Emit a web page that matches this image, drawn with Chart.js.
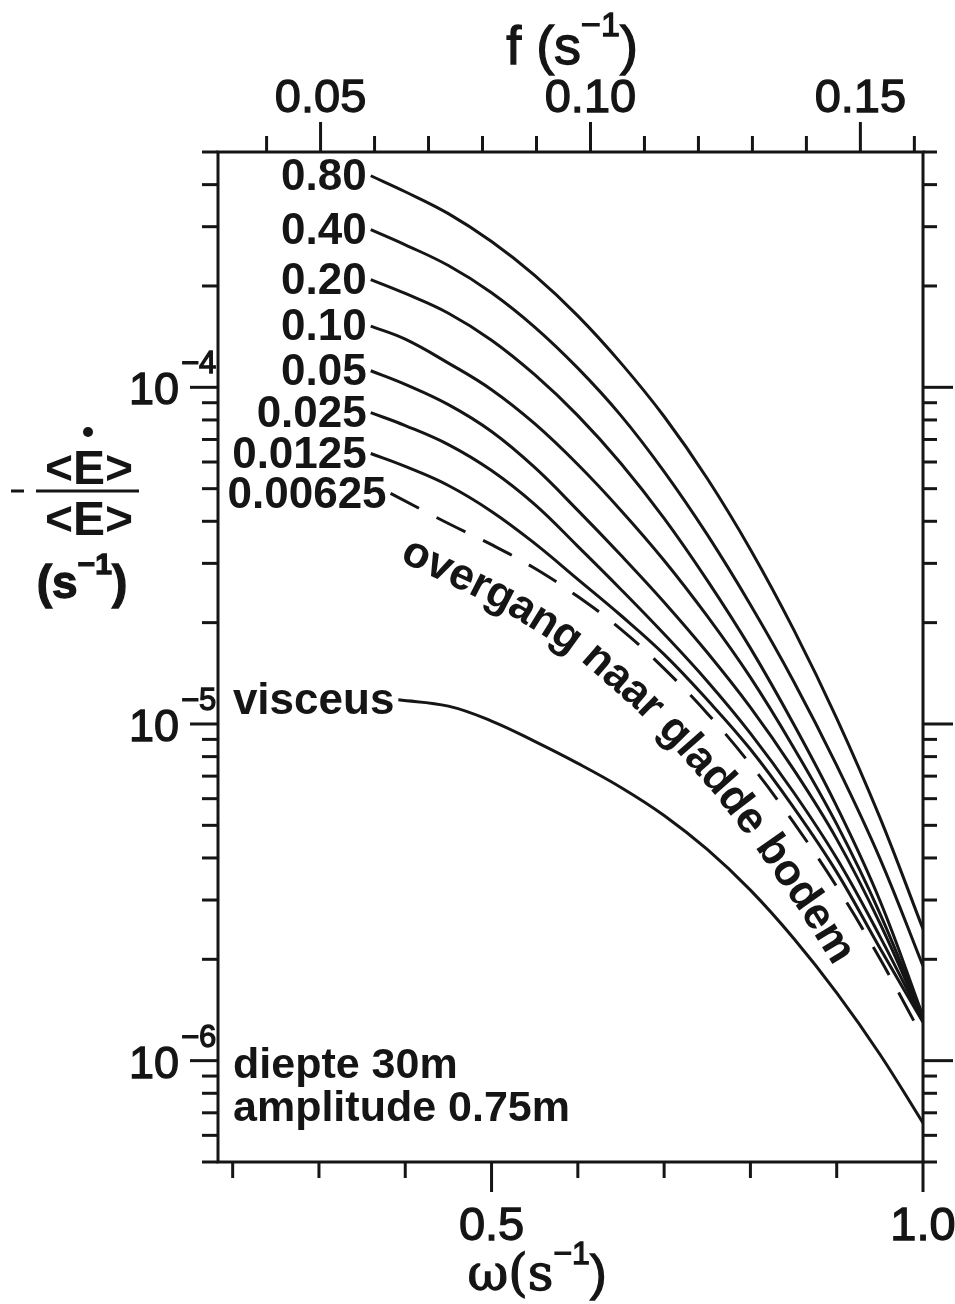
<!DOCTYPE html>
<html>
<head>
<meta charset="utf-8">
<script src="https://cdn.jsdelivr.net/npm/chart.js@4/dist/chart.umd.min.js"></script>
<style>
  html, body { margin: 0; padding: 0; background: #fff; }
  #wrap { width: 955px; height: 1304px; }
</style>
</head>
<body>
<div id="wrap"><canvas id="chart" width="955" height="1304"></canvas></div>
<script>
// omega (s^-1) grid shared by the roughness curves
var omega = [0.36, 0.40, 0.45, 0.50, 0.55, 0.60, 0.65, 0.70, 0.75, 0.80, 0.85, 0.90, 0.95, 1.00];
var roughness = ["0.80", "0.40", "0.20", "0.10", "0.05", "0.025", "0.0125"];

// -<dE/dt>/<E> (s^-1)
var d080 = [4.25e-4, 3.81e-4, 3.28e-4, 2.71e-4, 2.15e-4, 1.63e-4, 1.18e-4, 8.19e-5, 5.36e-5, 3.30e-5, 1.91e-5, 1.04e-5, 5.28e-6, 2.46e-6];
var d040 = [2.94e-4, 2.65e-4, 2.30e-4, 1.91e-4, 1.51e-4, 1.14e-4, 8.24e-5, 5.62e-5, 3.65e-5, 2.26e-5, 1.34e-5, 7.53e-6, 3.99e-6, 1.91e-6];
var d020 = [2.09e-4, 1.90e-4, 1.66e-4, 1.38e-4, 1.09e-4, 8.24e-5, 5.94e-5, 4.08e-5, 2.67e-5, 1.68e-5, 1.00e-5, 5.69e-6, 2.99e-6, 1.355e-6];
var d010 = [1.52e-4, 1.39e-4, 1.18e-4, 9.84e-5, 7.80e-5, 5.90e-5, 4.31e-5, 3.06e-5, 2.09e-5, 1.375e-5, 8.52e-6, 5.04e-6, 2.74e-6, 1.34e-6];
var d005 = [1.12e-4, 1.02e-4, 8.88e-5, 7.39e-5, 5.78e-5, 4.31e-5, 3.17e-5, 2.30e-5, 1.63e-5, 1.12e-5, 7.33e-6, 4.55e-6, 2.56e-6, 1.32e-6];
var d0025 = [8.41e-5, 7.70e-5, 6.76e-5, 5.66e-5, 4.49e-5, 3.37e-5, 2.51e-5, 1.85e-5, 1.34e-5, 9.38e-6, 6.27e-6, 3.99e-6, 2.34e-6, 1.31e-6];
var d00125 = [6.36e-5, 5.82e-5, 5.11e-5, 4.28e-5, 3.44e-5, 2.69e-5, 2.10e-5, 1.61e-5, 1.18e-5, 8.41e-6, 5.65e-6, 3.63e-6, 2.16e-6, 1.30e-6];

// dashed line (0.00625 / overgang naar gladde bodem)
var omegaOvergang = [0.383, 0.45, 0.50, 0.55, 0.60, 0.65, 0.70, 0.75, 0.80, 0.85, 0.90, 0.95, 0.991];
var dOvergang = [4.84e-5, 3.94e-5, 3.41e-5, 2.90e-5, 2.39e-5, 1.91e-5, 1.46e-5, 1.075e-5, 7.59e-6, 5.10e-6, 3.29e-6, 2.01e-6, 1.29e-6];

// viscous curve
var omegaVisceus = [0.392, 0.45, 0.50, 0.55, 0.60, 0.65, 0.70, 0.75, 0.80, 0.85, 0.90, 0.95, 1.00];
var dVisceus = [1.18e-5, 1.13e-5, 1.02e-5, 8.88e-6, 7.64e-6, 6.48e-6, 5.35e-6, 4.24e-6, 3.21e-6, 2.31e-6, 1.59e-6, 1.045e-6, 6.53e-7];

// axis ticks
var omegaTicks = [0.2, 0.3, 0.4, 0.5, 0.6, 0.7, 0.8, 0.9, 1.0];
var omegaLabels = ["0.5", "1.0"];
var omegaLabelAt = [0.5, 1.0];
var fTicks = [0.04, 0.05, 0.06, 0.07, 0.08, 0.09, 0.10, 0.11, 0.12, 0.13, 0.14, 0.15, 0.16];
var fLabels = ["0.05", "0.10", "0.15"];
var fLabelAt = [0.05, 0.10, 0.15];
var decades = [1e-4, 1e-5, 1e-6];
var decadeExp = ["\u22124", "\u22125", "\u22126"];

var black = "#151515";
var SANS = "'Liberation Sans', Arial, sans-serif";

function toPoints(xs, ys) {
  return xs.map(function (x, i) { return { x: x, y: ys[i] }; });
}

function lineSet(label, xs, ys, dash) {
  return {
    label: label,
    data: toPoints(xs, ys),
    borderColor: black,
    borderWidth: 3,
    borderDash: dash || [],
    pointRadius: 0,
    fill: false,
    tension: 0.4
  };
}

var curves = [d080, d040, d020, d010, d005, d0025, d00125];
var datasets = curves.map(function (d, i) { return lineSet(roughness[i], omega, d); });
datasets.push(lineSet("0.00625", omegaOvergang, dOvergang, [32, 20]));
datasets.push(lineSet("visceus", omegaVisceus, dVisceus));

// log ticks 2..9 per decade inside the range
var yTicks = [];
[1e-7, 1e-6, 1e-5, 1e-4].forEach(function (dec) {
  for (var m = 1; m <= 9; m++) {
    var v = m * dec;
    if (v > 4.99e-7 && v < 5.01e-4) yTicks.push({ v: v, major: m === 1 });
  }
});

function seg(c, x1, y1, x2, y2) {
  c.beginPath(); c.moveTo(x1, y1); c.lineTo(x2, y2); c.stroke();
}

// filled text with a thin outline, a bit heavier than plain regular
function heavyText(c, s, x, y) {
  c.fillText(s, x, y);
  c.lineWidth = 1.3;
  c.strokeText(s, x, y);
}

// base text + superscript + tail, starting at x (left)
function supText(c, x, y, base, sup, tail, size, supSize, weight, baseFont) {
  c.textAlign = "left";
  c.textBaseline = "alphabetic";
  c.font = weight + " " + size + "px " + (baseFont || SANS); heavyText(c, base, x, y); x += c.measureText(base).width;
  c.font = weight + " " + supSize + "px " + SANS; heavyText(c, sup, x, y - size * 0.52); x += c.measureText(sup).width;
  c.font = weight + " " + size + "px " + SANS; heavyText(c, tail, x, y); x += c.measureText(tail).width;
  return x;
}
function supWidth(c, base, sup, tail, size, supSize, weight, baseFont) {
  var w = 0;
  c.font = weight + " " + size + "px " + (baseFont || SANS); w += c.measureText(base).width;
  c.font = weight + " " + supSize + "px " + SANS; w += c.measureText(sup).width;
  c.font = weight + " " + size + "px " + SANS; w += c.measureText(tail).width;
  return w;
}

// write text along an offset of a polyline
function textAlong(c, pts, text, s0, off0, off1) {
  var n = pts.length, shifted = [];
  for (var i = 0; i < n; i++) {
    var p = pts[Math.max(i - 1, 0)], q = pts[Math.min(i + 1, n - 1)];
    var tx = q.x - p.x, ty = q.y - p.y, l = Math.hypot(tx, ty);
    var d = off0 + (off1 - off0) * i / (n - 1);
    shifted.push({ x: pts[i].x - ty / l * d, y: pts[i].y + tx / l * d });
  }
  var cum = [0];
  for (i = 1; i < n; i++) cum.push(cum[i - 1] + Math.hypot(shifted[i].x - shifted[i - 1].x, shifted[i].y - shifted[i - 1].y));
  function at(s) {
    for (var k = 1; k < n; k++) {
      if (s <= cum[k] || k === n - 1) {
        var t = (s - cum[k - 1]) / (cum[k] - cum[k - 1]);
        var a = shifted[k - 1], b = shifted[k];
        return { x: a.x + (b.x - a.x) * t, y: a.y + (b.y - a.y) * t, ang: Math.atan2(b.y - a.y, b.x - a.x) };
      }
    }
  }
  c.textAlign = "center";
  c.textBaseline = "middle";
  var s = s0;
  for (var j = 0; j < text.length; j++) {
    var w = c.measureText(text[j]).width;
    var p2 = at(s + w / 2);
    c.save(); c.translate(p2.x, p2.y); c.rotate(p2.ang); c.fillText(text[j], 0, 0); c.restore();
    s += w;
  }
}

var decor = {
  id: "decor",
  afterDatasetsDraw: function (chart) {
    var c = chart.ctx, a = chart.chartArea;
    var sx = chart.scales.x, sx2 = chart.scales.x2, sy = chart.scales.y;
    c.save();
    c.strokeStyle = black; c.fillStyle = black; c.lineWidth = 3; c.lineCap = "butt";

    // frame
    c.strokeRect(a.left, a.top, a.right - a.left, a.bottom - a.top);

    // bottom omega ticks
    omegaTicks.forEach(function (v) {
      var px = sx.getPixelForValue(v);
      var len = (Math.abs(v - 0.5) < 1e-6 || Math.abs(v - 1) < 1e-6) ? 30 : 16;
      seg(c, px, a.bottom, px, a.bottom + len);
    });
    // top f ticks
    fTicks.forEach(function (v) {
      var px = sx2.getPixelForValue(v);
      var major = fLabelAt.some(function (m) { return Math.abs(m - v) < 1e-6; });
      seg(c, px, a.top, px, a.top - (major ? 30 : 16));
    });
    // left / right log ticks
    yTicks.forEach(function (t) {
      var py = sy.getPixelForValue(t.v);
      seg(c, a.left, py, a.left - (t.major ? 28 : 16), py);
      seg(c, a.right, py, a.right + (t.major ? 30 : 14), py);
    });

    // tick labels
    c.font = "47px " + SANS;
    c.textAlign = "center"; c.textBaseline = "alphabetic";
    omegaLabels.forEach(function (lab, i) { heavyText(c, lab, sx.getPixelForValue(omegaLabelAt[i]), 1240); });
    fLabels.forEach(function (lab, i) { heavyText(c, lab, sx2.getPixelForValue(fLabelAt[i]), 112); });
    decades.forEach(function (d, i) {
      var py = sy.getPixelForValue(d);
      c.font = "45px " + SANS; c.textAlign = "right";
      heavyText(c, "10", 179, py + 17);
      c.font = "31px " + SANS; c.textAlign = "left";
      heavyText(c, decadeExp[i], 181, py - 14);
    });

    // axis titles
    var w = supWidth(c, "f (s", "\u22121", ")", 54, 34, "normal");
    supText(c, 572 - w / 2, 64, "f (s", "\u22121", ")", 54, 34, "normal");
    w = supWidth(c, "\u03c9(s", "\u22121", ")", 50, 32, "normal", "'DejaVu Serif', serif");
    supText(c, 537 - w / 2, 1290, "\u03c9(s", "\u22121", ")", 50, 32, "normal", "'DejaVu Serif', serif");

    // y title: - <E dot> / <E>  (s^-1)
    c.font = "bold 48px " + SANS; c.textAlign = "center"; c.textBaseline = "alphabetic";
    c.fillText("<E>", 89, 484);
    c.fillText("<E>", 89, 535);
    c.beginPath(); c.arc(88, 432, 5, 0, Math.PI * 2); c.fill();
    c.lineWidth = 3; seg(c, 36, 491, 139, 491); seg(c, 11, 491, 24, 491);
    w = supWidth(c, "(s", "\u22121", ")", 46, 30, "bold");
    supText(c, 82 - w / 2, 598, "(s", "\u22121", ")", 46, 30, "bold");

    // curve labels
    c.textAlign = "right"; c.textBaseline = "middle";
    chart.data.datasets.forEach(function (ds, i) {
      var p = chart.getDatasetMeta(i).data[0];
      c.font = "bold 44px " + SANS;
      c.fillText(ds.label, p.x - 4, p.y + 2);
    });

    // notes
    c.font = "bold 43px " + SANS; c.textAlign = "left"; c.textBaseline = "alphabetic";
    c.fillText("diepte 30m", 233, 1078);
    c.fillText("amplitude 0.75m", 233, 1121);

    // text along the dashed line
    var iOv = chart.data.datasets.findIndex(function (ds) { return ds.label === "0.00625"; });
    var line = chart.getDatasetMeta(iOv).data.map(function (p) { return { x: p.x, y: p.y }; });
    c.font = "bold 44px " + SANS;
    textAlong(c, line, "overgang naar gladde bodem", 38, 44, 30);
    c.restore();
  }
};

var fixed = function (size, dim) { return function (s) { s[dim] = size; }; };

new Chart(document.getElementById("chart"), {
  type: "line",
  data: { datasets: datasets },
  options: {
    responsive: false,
    animation: false,
    events: [],
    layout: { padding: 0 },
    plugins: { legend: { display: false }, tooltip: { enabled: false } },
    scales: {
      x: { type: "linear", position: "bottom", min: 0.183, max: 1.0,
           ticks: { display: false }, grid: { display: false }, border: { display: false },
           afterFit: fixed(142, "height") },
      x2: { type: "linear", position: "top", min: 0.031, max: 0.1616,
            ticks: { display: false }, grid: { display: false }, border: { display: false },
            afterFit: fixed(152, "height") },
      y: { type: "logarithmic", position: "left", min: 5e-7, max: 5e-4,
           ticks: { display: false }, grid: { display: false }, border: { display: false },
           afterFit: fixed(218, "width") },
      y2: { type: "logarithmic", position: "right", min: 5e-7, max: 5e-4,
            ticks: { display: false }, grid: { display: false }, border: { display: false },
            afterFit: fixed(32, "width") }
    }
  },
  plugins: [decor]
});
</script>
</body>
</html>
